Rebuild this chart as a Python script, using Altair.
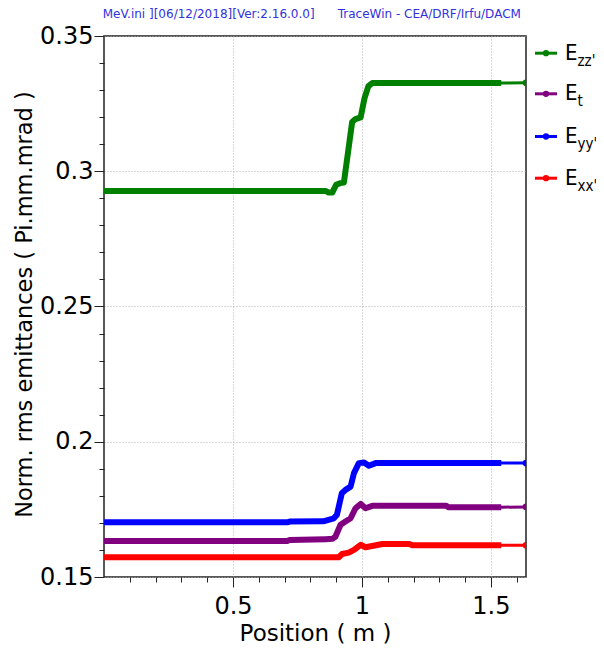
import altair as alt
import pandas as pd

FONT = "DejaVu Sans, sans-serif"
FONT_C = "DejaVu Sans Condensed, DejaVu Sans, sans-serif"

series = ["Ezz'", "Et", "Eyy'", "Exx'"]
colors = ["#008000", "#800080", "#0000ff", "#ff0000"]
subs = ["zz'", "t", "yy'", "xx'"]

ezz_x = [0.0, 0.86, 0.871, 0.885, 0.9, 0.915, 0.93, 0.946, 0.962, 0.975, 0.995, 1.01, 1.025, 1.04, 1.54, 1.636]
ezz_y = [0.2927, 0.2927, 0.2921, 0.2921, 0.2950, 0.2956, 0.2958, 0.3070, 0.3182, 0.3193, 0.3199, 0.3270, 0.3315, 0.3326, 0.3326, 0.3327]

et_x = [0.0, 0.71, 0.72, 0.86, 0.885, 0.897, 0.917, 0.936, 0.956, 0.975, 0.995, 1.014, 1.04, 1.327, 1.335, 1.54, 1.636]
et_y = [0.1633, 0.1633, 0.1637, 0.1640, 0.1641, 0.1649, 0.1693, 0.1705, 0.1717, 0.1754, 0.1770, 0.1754, 0.1763, 0.1763, 0.1758, 0.1758, 0.1759]

eyy_x = [0.0, 0.71, 0.72, 0.85, 0.891, 0.903, 0.922, 0.936, 0.956, 0.969, 0.988, 1.008, 1.027, 1.053, 1.54, 1.636]
eyy_y = [0.1702, 0.1702, 0.1705, 0.1706, 0.1717, 0.1730, 0.1810, 0.1822, 0.1834, 0.1884, 0.1921, 0.1923, 0.1911, 0.1921, 0.1921, 0.1921]

exx_x = [0.0, 0.91, 0.923, 0.949, 0.969, 0.995, 1.014, 1.079, 1.184, 1.197, 1.54, 1.636]
exx_y = [0.1573, 0.1573, 0.1585, 0.1590, 0.1600, 0.1619, 0.1610, 0.1622, 0.1622, 0.1617, 0.1617, 0.1617]

x_major = [0.5, 1, 1.5]
x_minor = [0.1, 0.2, 0.3, 0.4, 0.6, 0.7, 0.8, 0.9, 1.1, 1.2, 1.3, 1.4, 1.6]
y_major = [0.15, 0.2, 0.25, 0.3, 0.35]
y_minor = [0.16, 0.17, 0.18, 0.19, 0.21, 0.22, 0.23, 0.24, 0.26, 0.27, 0.28, 0.29, 0.31, 0.32, 0.33, 0.34]

header_left = "MeV.ini ][06/12/2018][Ver:2.16.0.0]"
header_right = "TraceWin - CEA/DRF/Irfu/DACM"

rows = []
for name, xs, ys in [("Ezz'", ezz_x, ezz_y), ("Et", et_x, et_y), ("Eyy'", eyy_x, eyy_y), ("Exx'", exx_x, exx_y)]:
    n = len(xs)
    for i, (a, b) in enumerate(zip(xs, ys)):
        rows.append({"series": name, "x": a, "y": b, "tail": i == n - 1})
df = pd.DataFrame(rows)

W, H = 422, 541
xscale = alt.Scale(domain=[0, 1.636], nice=False, zero=False)
yscale = alt.Scale(domain=[0.15, 0.35], nice=False, zero=False)
cscale = alt.Scale(domain=series, range=colors)

x_axis_major = alt.Axis(values=x_major, format="~g", grid=True, gridColor="#b0b0b0", gridDash=[1, 2],
                        gridWidth=1, domain=False, tickSize=10, tickColor="#222", tickWidth=1,
                        labelFont=FONT, labelFontSize=24, labelColor="black", labelBaseline="alphabetic",
                        labelPadding=26, title="Position ( m )", titleFont=FONT, titleFontSize=23,
                        titleFontWeight="normal", titleColor="black", titleBaseline="alphabetic",
                        titleY=63, orient="bottom", labelFlush=False, labelOverlap=False)
y_axis_major = alt.Axis(values=y_major, format="~g", grid=True, gridColor="#b0b0b0", gridDash=[1, 2],
                        gridWidth=1, domain=False, tickSize=10, tickColor="#222", tickWidth=1,
                        labelFont=FONT, labelFontSize=24, labelColor="black", labelPadding=1,
                        title="Norm. rms emittances ( Pi.mm.mrad )", titleFont=FONT, titleFontSize=22.5,
                        titleFontWeight="normal", titleColor="black", titleBaseline="middle",
                        titleX=-80, titleY=268, titleAngle=270, orient="left", labelFlush=False,
                        labelOverlap=False)
x_axis_minor = alt.Axis(values=x_minor, labels=False, grid=False, domain=False, tickSize=5,
                        tickColor="#222", title=None, orient="bottom")
y_axis_minor = alt.Axis(values=y_minor, labels=False, grid=False, domain=False, tickSize=5,
                        tickColor="#222", title=None, orient="left")

base = alt.Chart(df)

thin = base.mark_line(strokeWidth=3, clip=True).encode(
    x=alt.X("x:Q", scale=xscale, axis=x_axis_major),
    y=alt.Y("y:Q", scale=yscale, axis=y_axis_major),
    color=alt.Color("series:N", scale=cscale, legend=None),
    detail="series:N",
)

thick = base.transform_filter("!datum.tail").mark_line(strokeWidth=6, strokeJoin="round", strokeCap="butt", clip=True).encode(
    x=alt.X("x:Q", scale=xscale, axis=x_axis_minor),
    y=alt.Y("y:Q", scale=yscale, axis=y_axis_minor),
    color=alt.Color("series:N", scale=cscale, legend=None),
    detail="series:N",
)

ends = base.transform_filter("datum.tail").mark_circle(size=45, opacity=1, clip=True).encode(
    x=alt.X("x:Q", scale=xscale, axis=None),
    y=alt.Y("y:Q", scale=yscale, axis=None),
    color=alt.Color("series:N", scale=cscale, legend=None),
)

one = pd.DataFrame({"k": [0]})
legend_layers = []
row_y = [17.2, 57.8, 100.5, 142.2]
for name, col, sub, ry in zip(series, colors, subs, row_y):
    legend_layers.append(alt.Chart(one).mark_rule(color=col, strokeWidth=3).encode(
        x=alt.value(431), x2=alt.value(453), y=alt.value(ry)))
    legend_layers.append(alt.Chart(one).mark_point(filled=True, shape="circle", size=40, color=col, opacity=1).encode(
        x=alt.value(442), y=alt.value(ry)))
    legend_layers.append(alt.Chart(one).mark_text(align="left", baseline="alphabetic", font=FONT_C,
                                                  fontSize=22, color="black").encode(
        x=alt.value(461), y=alt.value(ry + 6.5), text=alt.value("E")))
    legend_layers.append(alt.Chart(one).mark_text(align="left", baseline="alphabetic", font=FONT_C,
                                                  fontSize=15, color="black").encode(
        x=alt.value(473.5), y=alt.value(ry + 12.5), text=alt.value(sub)))

hdr1 = alt.Chart(one).mark_text(align="left", baseline="alphabetic", font=FONT, fontSize=12, color="#3232dc").encode(
    x=alt.value(-1.3), y=alt.value(-18.5), text=alt.value(header_left))
hdr2 = alt.Chart(one).mark_text(align="left", baseline="alphabetic", font=FONT, fontSize=12, color="#3232dc").encode(
    x=alt.value(233.7), y=alt.value(-18.5), text=alt.value(header_right))

chart = alt.layer(thin, thick, ends, *legend_layers, hdr1, hdr2).resolve_axis(
    x="independent", y="independent"
).properties(
    width=W, height=H,
    autosize=alt.AutoSizeParams(type="none"),
    padding={"left": 96, "top": 28, "right": 70, "bottom": 70},
    background="white",
).configure_view(stroke="#222", strokeWidth=1.5)

chart.save("out.html", embed_options={"renderer": "svg", "actions": False})
